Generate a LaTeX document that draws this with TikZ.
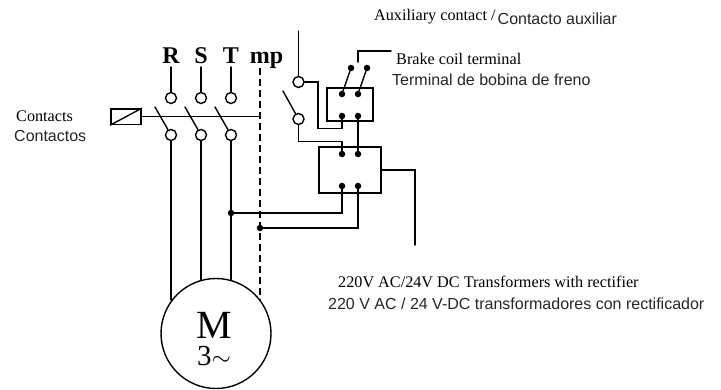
\documentclass[tikz,border=0pt]{standalone}
\usepackage{fontspec}
\setmainfont{Liberation Serif}
\newfontfamily\arialf{Liberation Sans}
\tikzset{
  wire/.style={line width=1.4pt,black,line cap=round,line join=miter},
  term/.style={circle,draw=black,line width=1.4pt,fill=white,minimum size=11pt,inner sep=0pt},
  dotn/.style={circle,fill=black,minimum size=6.5pt,inner sep=0pt},
  smalldot/.style={circle,fill=black,minimum size=6.5pt,inner sep=0pt},
  boxn/.style={draw=black,line width=1.4pt,inner sep=0pt},
  phase/.style={font=\fontsize{24}{24}\selectfont\bfseries,inner sep=0pt,anchor=base},
  serift/.style={font=\fontsize{16.2}{18}\selectfont,inner sep=0pt,anchor=base west},
  sanst/.style={font=\fontsize{16}{18}\selectfont\arialf,text=black!85,inner sep=0pt,anchor=base west},
}
\begin{document}
\begin{tikzpicture}[x=1pt,y=-1pt]
\useasboundingbox (0,0) rectangle (721,390);
% motor
\node[circle,draw=black,line width=1.4pt,minimum size=110pt,inner sep=0pt] (motor) at (216,333.5) {};
\node[inner sep=0pt,anchor=base,font=\fontsize{40}{40}\selectfont] (mlabel) at (214,338) {M};
\node[inner sep=0pt,anchor=base,font=\fontsize{29}{29}\selectfont] (nlabel) at (214,366) {3$\sim$};
% phase labels
\node[phase] (R) at (171,64) {R};
\node[phase] (S) at (201,64) {S};
\node[phase] (T) at (231,64) {T};
\node[phase] (mp) at (266.5,64) {mp};
% terminals
\node[term] (r1) at (171,98) {};
\node[term] (s1) at (201,98) {};
\node[term] (t1) at (231,98) {};
\node[term] (r2) at (171,135) {};
\node[term] (s2) at (201,135) {};
\node[term] (t2) at (231,135) {};
\coordinate (rtop) at (171,67);
\coordinate (stop) at (201,67);
\coordinate (ttop) at (231,67);
\draw[wire] (rtop) -- (r1);
\draw[wire] (stop) -- (s1);
\draw[wire] (ttop) -- (t1);
% coil
\node[boxn,minimum width=30pt,minimum height=15.5pt] (coil) at (126,116.7) {};
\draw[wire] (coil.south west) -- (coil.north east);
\coordinate (mptop) at (260,68);
\coordinate (mpbot) at (260,301);
\coordinate (mpj) at (260,116.7);
\draw[wire] (coil.east) -- (mpj);
\draw[wire,dash pattern=on 7pt off 4pt,line cap=butt] (mptop) -- (mpbot);
% blades
\coordinate (rb) at (155,107);
\coordinate (sb) at (185,107);
\coordinate (tb) at (215,107);
\draw[wire] (rb) -- (r2);
\draw[wire] (sb) -- (s2);
\draw[wire] (tb) -- (t2);
% to motor
\coordinate (rm) at (171,300);
\coordinate (sm) at (201,280);
\coordinate (tm) at (231,280);
\draw[wire] (r2) -- (rm);
\draw[wire] (s2) -- (sm);
\draw[wire] (t2) -- (tm);
% boxes
\node[boxn,minimum width=46pt,minimum height=33pt] (upper) at (350,104.5) {};
\node[boxn,minimum width=62pt,minimum height=46pt] (lower) at (350,170) {};
\node[smalldot] (u1) at (342,94) {};
\node[smalldot] (u2) at (358,94) {};
\node[smalldot] (u3) at (342,116) {};
\node[smalldot] (u4) at (358,116) {};
\node[smalldot] (b1) at (351,68) {};
\node[smalldot] (b2) at (367,68) {};
\node[smalldot] (l1) at (342,154) {};
\node[smalldot] (l2) at (358,154) {};
\node[smalldot] (l3) at (342,186) {};
\node[smalldot] (l4) at (358,186) {};
\draw[wire] (u1) -- (b1);
\draw[wire] (u2) -- (b2);
\coordinate (bc1) at (358,62);
\coordinate (bc2) at (358,51);
\coordinate (bc3) at (391,51);
\draw[wire] (bc1) -- (bc2) -- (bc3);
% aux contacts
\node[term] (a1) at (298.5,82) {};
\node[term] (a2) at (298.5,119) {};
\coordinate (atop) at (298.5,31);
\coordinate (ab) at (283,91);
\draw[wire] (atop) -- (a1);
\draw[wire] (ab) -- (a2);
\draw[wire] (a1.east) -- (318,82) -- (318,128.5) -- (342,128.5) -- (u3);
\draw[wire] (a2.south) -- (298.5,141.5) -- (342,141.5) -- (l1);
\draw[wire] (u4) -- (l2);
% junctions
\node[dotn] (j1) at (231,213) {};
\node[dotn] (j2) at (260,228) {};
\draw[wire] (j1) -- (342,213) -- (l3);
\draw[wire] (j2) -- (358,228) -- (l4);
\coordinate (tr) at (415,245);
\draw[wire] (lower.east) -- (415,170) -- (tr);
% text
\node[serift] (t-a) at (374,21) {Auxiliary contact /};
\node[sanst] (t-b) at (497.5,25) {Contacto auxiliar};
\node[serift] (t-c) at (396,65) {Brake coil terminal};
\node[sanst] (t-d) at (392,86) {Terminal de bobina de freno};
\node[serift] (t-e) at (16,122) {Contacts};
\node[sanst] (t-f) at (14,142) {Contactos};
\node[serift] (t-g) at (338,288) {220V AC/24V DC Transformers with rectifier};
\node[sanst] (t-h) at (328,310) {220 V AC / 24 V-DC transformadores con rectificador};
\end{tikzpicture}
\end{document}
